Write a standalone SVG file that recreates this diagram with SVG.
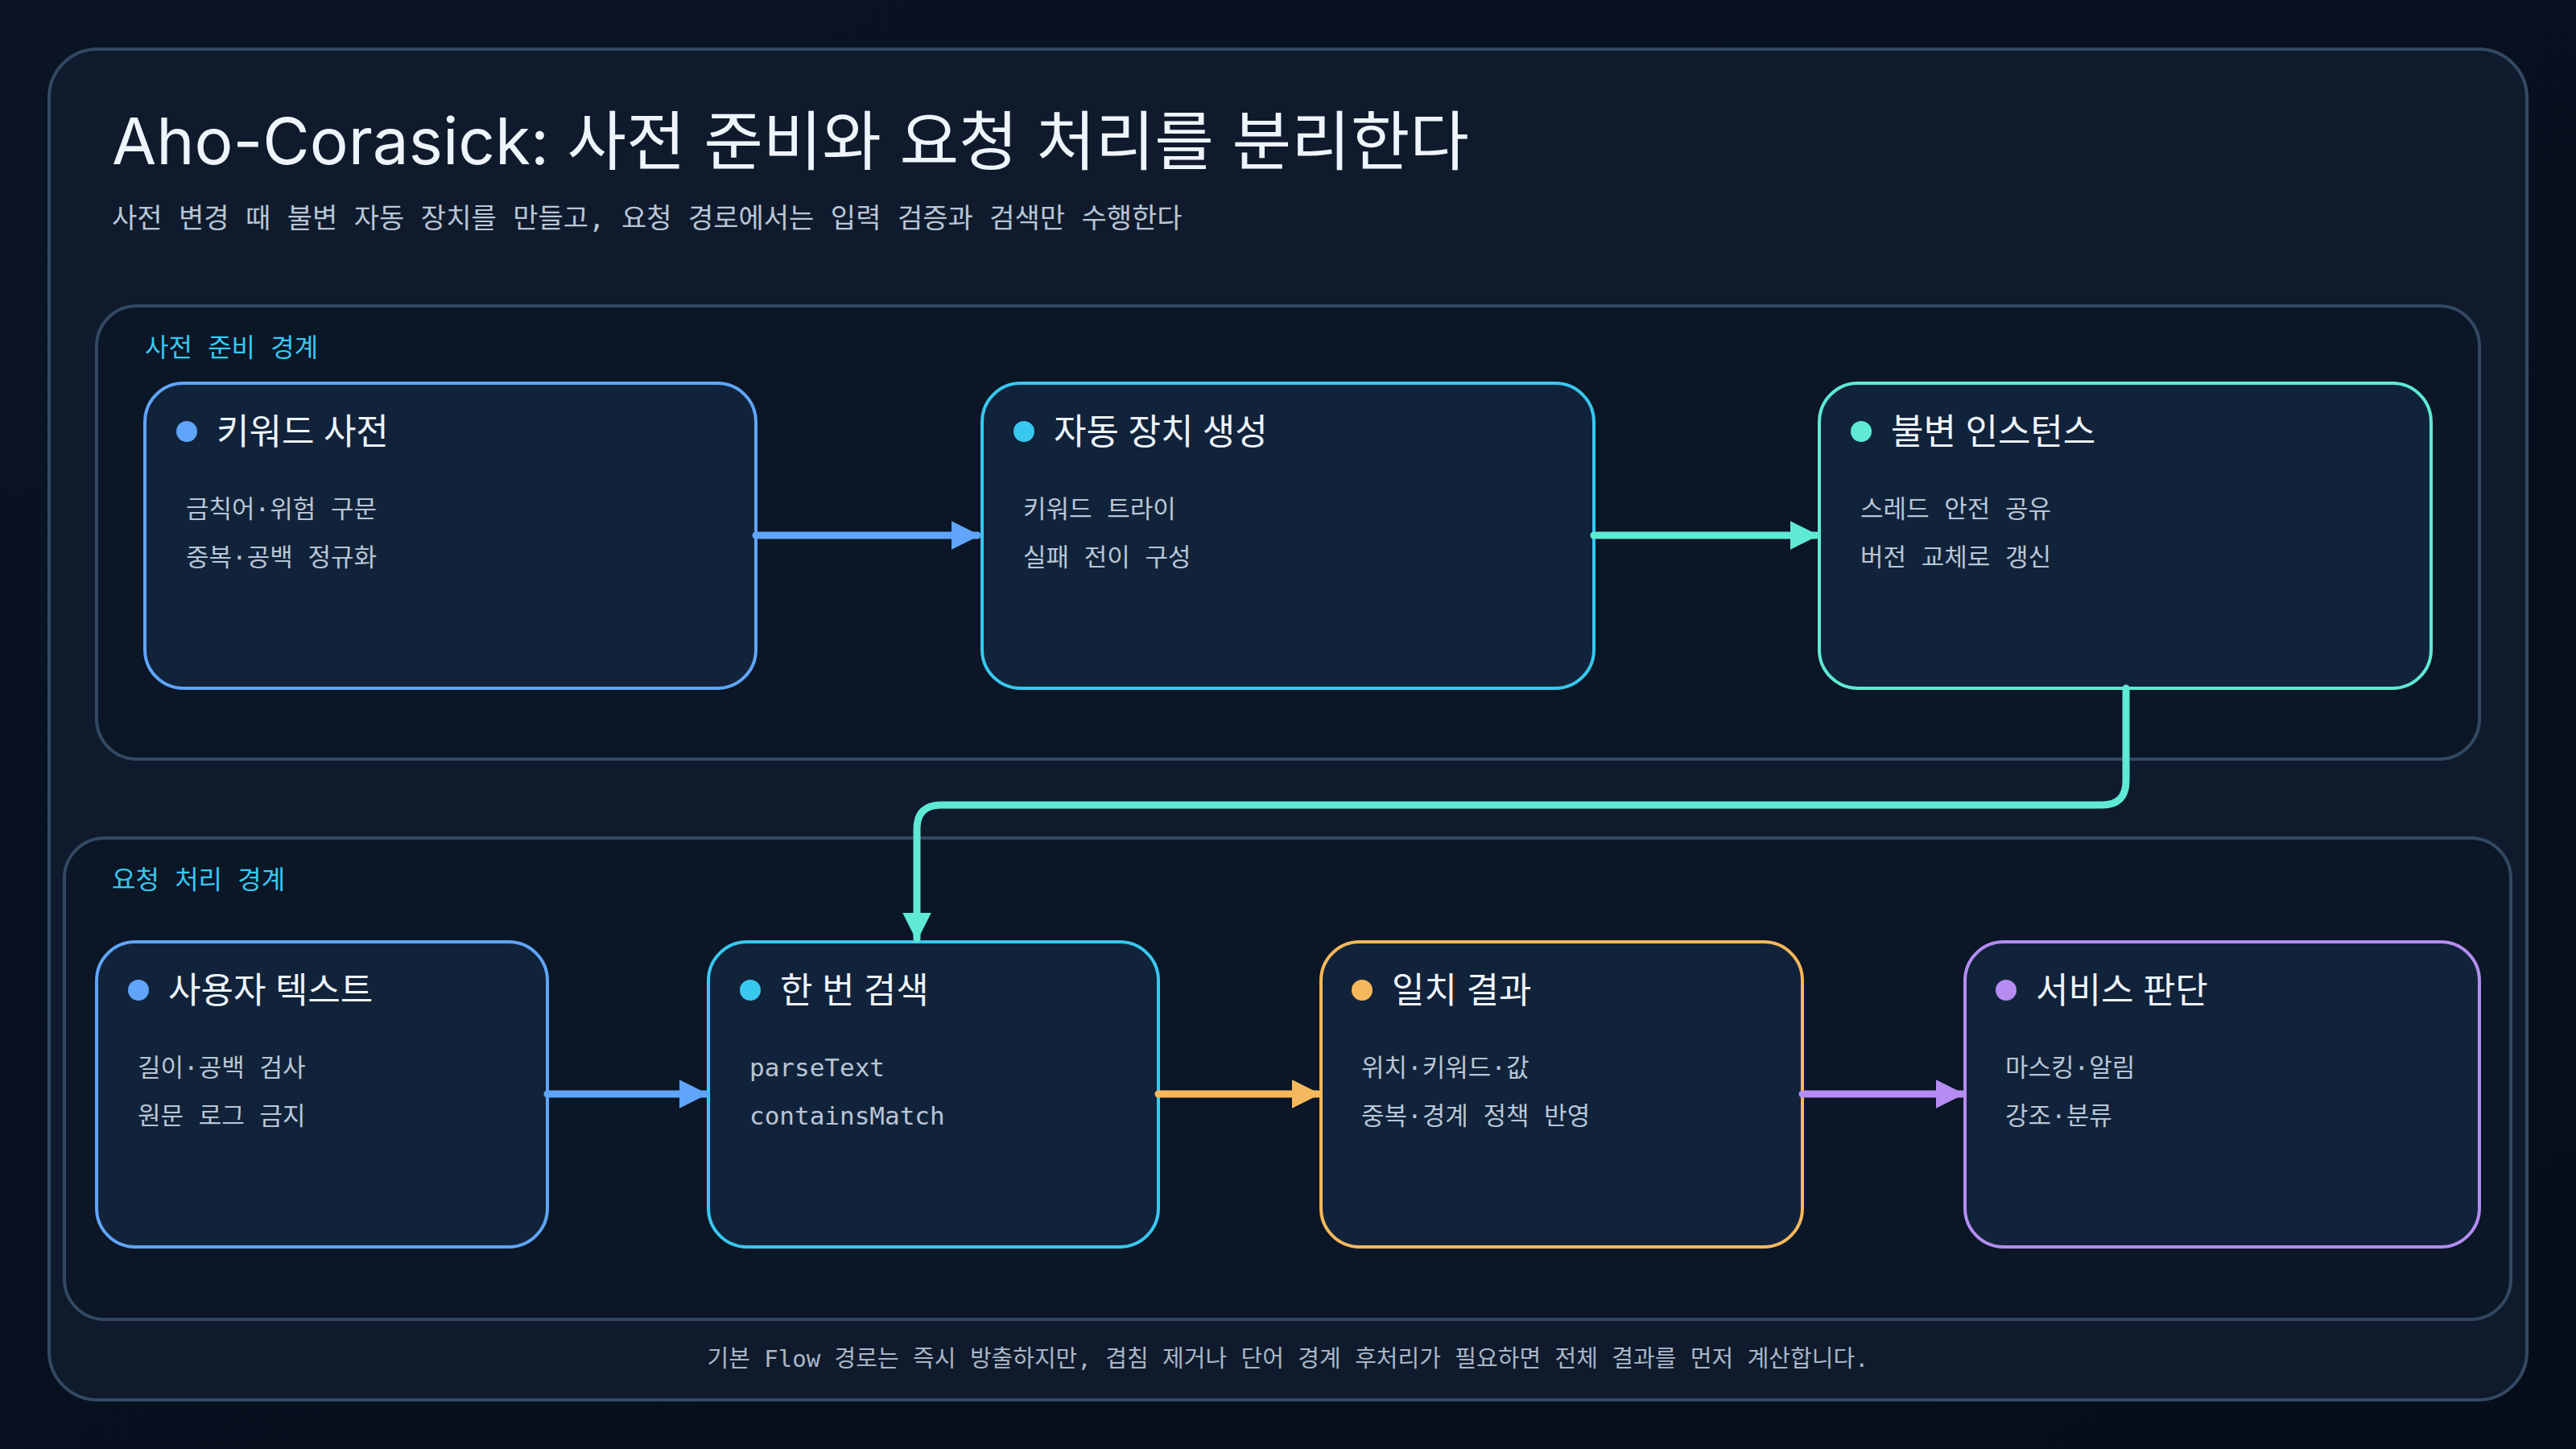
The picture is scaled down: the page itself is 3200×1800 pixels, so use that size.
<svg xmlns="http://www.w3.org/2000/svg" width="3200" height="1800" viewBox="0 0 3200 1800">
<defs>
<linearGradient id="bg" x1="0" y1="0" x2="1" y2="1"><stop offset="0" stop-color="#0a1424"/><stop offset="1" stop-color="#060d1a"/></linearGradient>
<marker id="mBlue" viewBox="0 0 10 10" refX="9" refY="5" markerWidth="4" markerHeight="4" orient="auto"><path d="M0,0L10,5L0,10z" fill="#60a5fa"/></marker>
<marker id="mTeal" viewBox="0 0 10 10" refX="9" refY="5" markerWidth="4" markerHeight="4" orient="auto"><path d="M0,0L10,5L0,10z" fill="#5eead4"/></marker>
<marker id="mOr" viewBox="0 0 10 10" refX="9" refY="5" markerWidth="4" markerHeight="4" orient="auto"><path d="M0,0L10,5L0,10z" fill="#f6b85c"/></marker>
<marker id="mPur" viewBox="0 0 10 10" refX="9" refY="5" markerWidth="4" markerHeight="4" orient="auto"><path d="M0,0L10,5L0,10z" fill="#b48cf2"/></marker>
<style>
text{font-family:"Noto Sans","Noto Sans CJK KR",sans-serif}
.mono{font-family:"DejaVu Sans Mono","Noto Sans CJK KR",monospace}
.title{font-size:80px;fill:#eef4fb;font-family:Inter,"Noto Sans CJK KR",sans-serif}
.sub{font-size:34px;fill:#b9c6d6}
.glabel{font-size:32px;fill:#38c8f0}
.group{fill:#0b1626;stroke:#334863;stroke-width:4}
.node{fill:#11233a;stroke-width:4}
.nt{font-size:44px;fill:#eef4fb}
.nl{font-size:31px;fill:#b9c6d6}
.conn{fill:none;stroke-width:9;stroke-linecap:round}
.foot{font-size:29px;fill:#a9b6c6}
</style>
</defs>
<rect width="3200" height="1800" fill="url(#bg)"/>
<rect x="61" y="61" width="3078" height="1678" rx="60" fill="#0f1b2d" stroke="#334863" stroke-width="4"/>
<text class="title" x="139" y="204">Aho-Corasick: 사전 준비와 요청 처리를 분리한다</text>
<text class="sub mono" x="139" y="283">사전 변경 때 불변 자동 장치를 만들고, 요청 경로에서는 입력 검증과 검색만 수행한다</text>

<g id="group-prep">
<rect class="group" x="120" y="380" width="2960" height="563" rx="50"/>
<text class="glabel mono" x="180" y="443">사전 준비 경계</text>
</g>
<g id="group-req">
<rect class="group" x="80" y="1041" width="3039" height="598" rx="50"/>
<text class="glabel mono" x="139" y="1104">요청 처리 경계</text>
</g>

<g id="n-dict">
<rect class="node" x="180" y="476" width="759" height="379" rx="48" stroke="#60a5fa"/>
<circle cx="232" cy="536" r="13" fill="#60a5fa"/>
<text class="nt" x="269" y="552">키워드 사전</text>
<text class="nl mono" x="231" y="643">금칙어·위험 구문</text>
<text class="nl mono" x="231" y="703">중복·공백 정규화</text>
</g>
<g id="n-build">
<rect class="node" x="1220" y="476" width="760" height="379" rx="48" stroke="#38c8f0"/>
<circle cx="1272" cy="536" r="13" fill="#38c8f0"/>
<text class="nt" x="1309" y="552">자동 장치 생성</text>
<text class="nl mono" x="1271" y="643">키워드 트라이</text>
<text class="nl mono" x="1271" y="703">실패 전이 구성</text>
</g>
<g id="n-inst">
<rect class="node" x="2260" y="476" width="760" height="379" rx="48" stroke="#5eead4"/>
<circle cx="2312" cy="536" r="13" fill="#5eead4"/>
<text class="nt" x="2349" y="552">불변 인스턴스</text>
<text class="nl mono" x="2311" y="643">스레드 안전 공유</text>
<text class="nl mono" x="2311" y="703">버전 교체로 갱신</text>
</g>

<g id="n-user">
<rect class="node" x="120" y="1170" width="560" height="379" rx="48" stroke="#60a5fa"/>
<circle cx="172" cy="1230" r="13" fill="#60a5fa"/>
<text class="nt" x="209" y="1246">사용자 텍스트</text>
<text class="nl mono" x="171" y="1337">길이·공백 검사</text>
<text class="nl mono" x="171" y="1397">원문 로그 금지</text>
</g>
<g id="n-search">
<rect class="node" x="880" y="1170" width="559" height="379" rx="48" stroke="#38c8f0"/>
<circle cx="932" cy="1230" r="13" fill="#38c8f0"/>
<text class="nt" x="969" y="1246">한 번 검색</text>
<text class="nl mono" x="931" y="1337">parseText</text>
<text class="nl mono" x="931" y="1397">containsMatch</text>
</g>
<g id="n-result">
<rect class="node" x="1641" y="1170" width="598" height="379" rx="48" stroke="#f6b85c"/>
<circle cx="1692" cy="1230" r="13" fill="#f6b85c"/>
<text class="nt" x="1729" y="1246">일치 결과</text>
<text class="nl mono" x="1691" y="1337">위치·키워드·값</text>
<text class="nl mono" x="1691" y="1397">중복·경계 정책 반영</text>
</g>
<g id="n-service">
<rect class="node" x="2441" y="1170" width="639" height="379" rx="48" stroke="#b48cf2"/>
<circle cx="2492" cy="1230" r="13" fill="#b48cf2"/>
<text class="nt" x="2529" y="1246">서비스 판단</text>
<text class="nl mono" x="2491" y="1337">마스킹·알림</text>
<text class="nl mono" x="2491" y="1397">강조·분류</text>
</g>

<g id="connectors">
<path class="conn" d="M939,665H1214" stroke="#60a5fa" marker-end="url(#mBlue)"/>
<path class="conn" d="M1980,665H2256" stroke="#5eead4" marker-end="url(#mTeal)"/>
<path class="conn" d="M2641,855V970Q2641,1000 2611,1000H1169Q1139,1000 1139,1030V1166" stroke="#5eead4" marker-end="url(#mTeal)"/>
<path class="conn" d="M680,1359H876" stroke="#60a5fa" marker-end="url(#mBlue)"/>
<path class="conn" d="M1439,1359H1637" stroke="#f6b85c" marker-end="url(#mOr)"/>
<path class="conn" d="M2239,1359H2437" stroke="#b48cf2" marker-end="url(#mPur)"/>
</g>

<text class="foot mono" x="1600" y="1698" text-anchor="middle">기본 Flow 경로는 즉시 방출하지만, 겹침 제거나 단어 경계 후처리가 필요하면 전체 결과를 먼저 계산합니다.</text>
</svg>
